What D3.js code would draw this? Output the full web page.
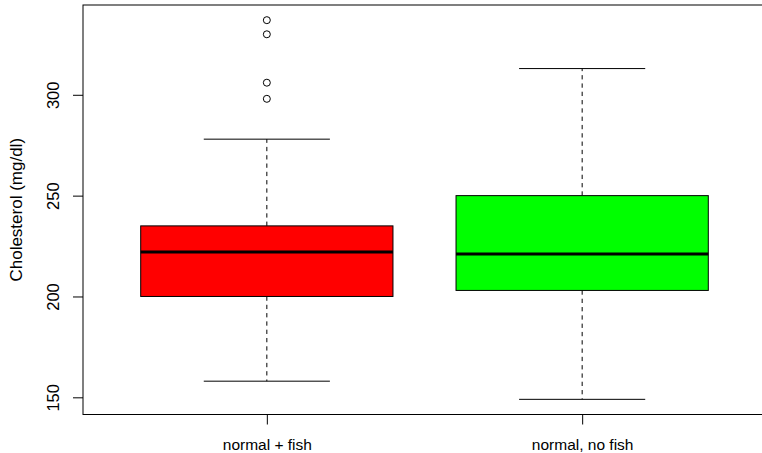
<!DOCTYPE html>
<html>
<head>
<meta charset="utf-8">
<script src="https://cdn.jsdelivr.net/npm/d3@7"></script>
<style>
  html, body { margin: 0; padding: 0; background: #fff; }
  svg { display: block; }
  text { font-family: "Liberation Sans", Arial, Helvetica, sans-serif; fill: #000; }
</style>
</head>
<body>
<svg id="chart" width="762" height="453"></svg>
<script>
// Cholesterol by diet group: five-number summaries plus outliers
const groups   = ["normal + fish", "normal, no fish"];
const lowWhisk = [158, 149];
const q1       = [200, 203];
const median   = [222, 221];
const q3       = [235, 250];
const highWhisk = [278, 313];
const outliers = [[298, 306, 330, 337], []];
const fills    = ["#ff0000", "#00ff00"];
const yTicks   = [150, 200, 250, 300];
const yLabel   = "Cholesterol (mg/dl)";

const plot = { left: 83, right: 766, top: 5, bottom: 414.5 };

const svg = d3.select("#chart");

const x = d3.scalePoint()
  .domain(groups)
  .range([plot.left, plot.right])
  .padding(0.583);

// data range padded by 4% on each side
const lo = d3.min(lowWhisk), hi = d3.max(outliers.flat().concat(highWhisk));
const pad = (hi - lo) * 0.04;
const y = d3.scaleLinear()
  .domain([lo - pad, hi + pad])
  .range([plot.bottom, plot.top]);

const step = x.step();
const boxW = step * 0.8;
const capW = boxW * 0.5;

const data = groups.map((g, i) => ({
  g, i, low: lowWhisk[i], q1: q1[i], med: median[i], q3: q3[i],
  high: highWhisk[i], out: outliers[i], fill: fills[i]
}));

const box = svg.append("g").selectAll("g").data(data).join("g");

// dashed whiskers
box.append("line")
  .attr("x1", d => x(d.g)).attr("x2", d => x(d.g))
  .attr("y1", d => y(d.q3)).attr("y2", d => y(d.high))
  .attr("stroke", "#000").attr("stroke-dasharray", "4.3,4");
box.append("line")
  .attr("x1", d => x(d.g)).attr("x2", d => x(d.g))
  .attr("y1", d => y(d.q1)).attr("y2", d => y(d.low))
  .attr("stroke", "#000").attr("stroke-dasharray", "4.3,4");

// staples
box.append("line")
  .attr("x1", d => x(d.g) - capW / 2).attr("x2", d => x(d.g) + capW / 2)
  .attr("y1", d => y(d.high)).attr("y2", d => y(d.high))
  .attr("stroke", "#000");
box.append("line")
  .attr("x1", d => x(d.g) - capW / 2).attr("x2", d => x(d.g) + capW / 2)
  .attr("y1", d => y(d.low)).attr("y2", d => y(d.low))
  .attr("stroke", "#000");

// boxes
box.append("rect")
  .attr("x", d => x(d.g) - boxW / 2)
  .attr("width", boxW)
  .attr("y", d => y(d.q3))
  .attr("height", d => y(d.q1) - y(d.q3))
  .attr("fill", d => d.fill)
  .attr("stroke", "#000");

// medians
box.append("line")
  .attr("x1", d => x(d.g) - boxW / 2).attr("x2", d => x(d.g) + boxW / 2)
  .attr("y1", d => y(d.med)).attr("y2", d => y(d.med))
  .attr("stroke", "#000").attr("stroke-width", 3);

// outliers
box.selectAll("circle").data(d => d.out.map(v => ({ g: d.g, v })))
  .join("circle")
  .attr("cx", d => x(d.g)).attr("cy", d => y(d.v))
  .attr("r", 3.5)
  .attr("fill", "none").attr("stroke", "#000");

// plot frame
svg.append("rect")
  .attr("x", plot.left).attr("y", plot.top)
  .attr("width", plot.right - plot.left)
  .attr("height", plot.bottom - plot.top)
  .attr("fill", "none").attr("stroke", "#000");

// y axis: ticks with rotated labels
const yAxis = svg.append("g").attr("transform", `translate(${plot.left},0)`)
  .call(d3.axisLeft(y).tickValues(yTicks).tickSize(10).tickSizeOuter(0));
yAxis.select(".domain").remove();
yAxis.selectAll(".tick line").attr("stroke", "#000");
yAxis.selectAll(".tick text")
  .attr("x", null).attr("dy", null)
  .attr("transform", "translate(-24,0) rotate(-90)")
  .attr("text-anchor", "middle")
  .style("font-size", "16.5px")
  .style("font-family", "Liberation Sans, Arial, sans-serif")
  .attr("fill", "#000");

// x axis
const xAxis = svg.append("g").attr("transform", `translate(0,${plot.bottom})`)
  .call(d3.axisBottom(x).tickSize(10).tickSizeOuter(0));
xAxis.select(".domain").remove();
xAxis.selectAll(".tick line").attr("stroke", "#000");
xAxis.selectAll(".tick text")
  .attr("y", 35.5).attr("dy", null)
  .style("font-size", "15.5px")
  .style("font-family", "Liberation Sans, Arial, sans-serif")
  .attr("fill", "#000");

// y axis title
svg.append("text")
  .attr("transform", `translate(22,${(plot.top + plot.bottom) / 2}) rotate(-90)`)
  .attr("text-anchor", "middle")
  .style("font-size", "17px")
  .text(yLabel);
</script>
</body>
</html>
